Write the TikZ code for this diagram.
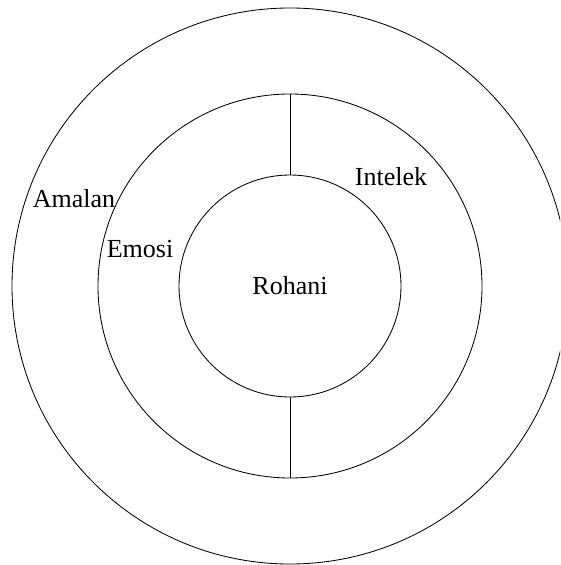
\documentclass[tikz,border=0pt]{standalone}
\usepackage{fontspec}
\setmainfont{Liberation Serif}
\usetikzlibrary{positioning}

\begin{document}
\begin{tikzpicture}[
  x=0.025cm, y=-0.025cm,
  every node/.style={font=\fontsize{18.5}{22}\selectfont},
  ring/.style={draw, circle, semithick, inner sep=0pt, outer sep=0pt},
  lbl/.style={anchor=base, inner sep=0pt},
  divider/.style={semithick}
]

% ---- Page frame (outer ring runs past the right edge) ----
\clip (0,0) rectangle (560,565);

% ---- Concentric rings ----
\node[ring, minimum size=556*0.025cm] (outer) at (290,286) {};
\node[ring, minimum size=384*0.025cm] (mid)   at (290,286) {};
\node[ring, minimum size=222*0.025cm] (inner) at (290,286) {};

% ---- Dividers between middle and inner ring ----
\draw[divider] (mid.north) -- (inner.north);
\draw[divider] (inner.south) -- (mid.south);

% ---- Labels ----
\node[lbl] (amalan) at (74,207)  {Amalan};
\node[lbl] (emosi)  at (140,257) {Emosi};
\node[lbl] (intelek) at (391,185) {Intelek};
\node[lbl] (rohani) at (290,294) {Rohani};

\end{tikzpicture}
\end{document}
